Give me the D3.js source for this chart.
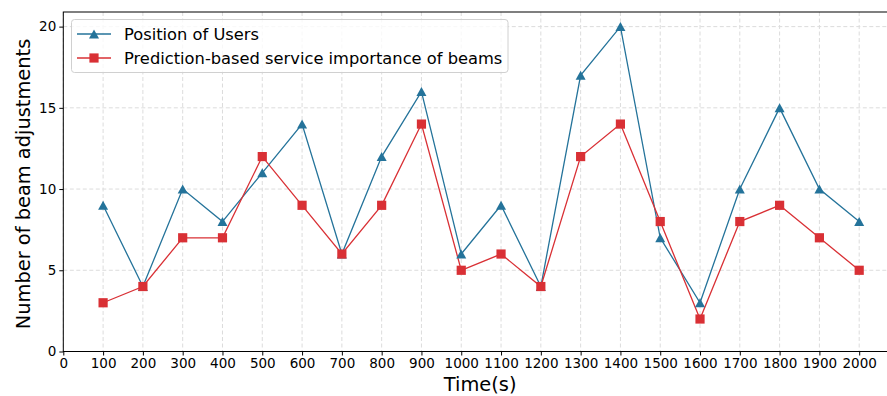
<!DOCTYPE html>
<html>
<head>
<meta charset="utf-8">
<script src="https://cdn.jsdelivr.net/npm/d3@7"></script>
<style>
  body { margin: 0; background: #fff; }
  svg { display: block; font-family: "DejaVu Sans", sans-serif; }
</style>
</head>
<body>
<svg id="chart" width="887" height="396"></svg>
<script>
// data
const times = [100, 200, 300, 400, 500, 600, 700, 800, 900, 1000,
  1100, 1200, 1300, 1400, 1500, 1600, 1700, 1800, 1900, 2000];
const usersPos = [9, 4, 10, 8, 11, 14, 6, 12, 16, 6, 9, 4, 17, 20, 7, 3, 10, 15, 10, 8];
const predImportance = [3, 4, 7, 7, 12, 9, 6, 9, 14, 5, 6, 4, 12, 14, 8, 2, 8, 9, 7, 5];
const xTicks = d3.range(0, 2001, 100);
const yTicks = [0, 5, 10, 15, 20];
const seriesNames = ['Position of Users', 'Prediction-based service importance of beams'];

const blue = '#24739a', red = '#d93035';

const svg = d3.select('#chart');
const plotL = 63.3, plotR = 897, plotT = 12, plotB = 351.5;

const x = d3.scaleLinear().domain([0, 2095]).range([plotL, plotR]);
const y = d3.scaleLinear().domain([0, 20.9]).range([plotB, plotT]);

// grid
const grid = svg.append('g');
grid.selectAll('.gx').data(xTicks).join('line')
  .attr('x1', d => x(d)).attr('x2', d => x(d))
  .attr('y1', plotT).attr('y2', plotB)
  .attr('stroke', '#dcdcdc').attr('stroke-width', 1).attr('stroke-dasharray', '4,2.5');
grid.selectAll('.gy').data(yTicks).join('line')
  .attr('x1', plotL).attr('x2', plotR)
  .attr('y1', d => y(d)).attr('y2', d => y(d))
  .attr('stroke', '#dcdcdc').attr('stroke-width', 1).attr('stroke-dasharray', '4,2.5');

// axes
const xAxis = svg.append('g')
  .attr('transform', `translate(0,${plotB})`)
  .call(d3.axisBottom(x).tickValues(xTicks).tickFormat(d3.format('d')).tickSize(4).tickPadding(3));
const yAxis = svg.append('g')
  .attr('transform', `translate(${plotL},0)`)
  .call(d3.axisLeft(y).tickValues(yTicks).tickFormat(d3.format('d')).tickSize(4).tickPadding(3));
[xAxis, yAxis].forEach(a => {
  a.selectAll('text').attr('font-size', 13.5).attr('fill', '#000')
    .style('font-family', '"DejaVu Sans", sans-serif');
  a.selectAll('line').attr('stroke', '#000').attr('stroke-width', 1);
  a.select('.domain').remove();
});

// frame
svg.append('rect')
  .attr('x', plotL).attr('y', plotT)
  .attr('width', plotR - plotL).attr('height', plotB - plotT)
  .attr('fill', 'none').attr('stroke', '#000').attr('stroke-width', 1);

// axis labels
svg.append('text')
  .attr('x', (plotL + plotR) / 2).attr('y', 391)
  .attr('text-anchor', 'middle').attr('font-size', 19.4)
  .text('Time(s)');
svg.append('text')
  .attr('transform', 'translate(30,184) rotate(-90)')
  .attr('text-anchor', 'middle').attr('font-size', 19.4)
  .text('Number of beam adjustments');

// lines
const line = d3.line().x((d, i) => x(times[i])).y(d => y(d));
// matplotlib-style '^': centred at half height, not centroid
const tri = 'M0,-4.6L5,4.4L-5,4.4Z';
const sq = 'M-4.6,-4.6H4.6V4.6H-4.6Z';

svg.append('path').datum(usersPos).attr('d', line)
  .attr('fill', 'none').attr('stroke', blue).attr('stroke-width', 1.3);
svg.append('path').datum(predImportance).attr('d', line)
  .attr('fill', 'none').attr('stroke', red).attr('stroke-width', 1.3);

svg.selectAll('.tri').data(usersPos).join('path')
  .attr('d', tri)
  .attr('transform', (d, i) => `translate(${x(times[i])},${y(d)})`)
  .attr('fill', blue);
svg.selectAll('.sq').data(predImportance).join('path')
  .attr('d', sq)
  .attr('transform', (d, i) => `translate(${x(times[i])},${y(d)})`)
  .attr('fill', red);

// legend
const lg = svg.append('g');
lg.append('rect')
  .attr('x', 71.5).attr('y', 19.5).attr('width', 436.5).attr('height', 53).attr('rx', 3)
  .attr('fill', '#fff').attr('fill-opacity', 0.8)
  .attr('stroke', '#d0d0d0').attr('stroke-width', 1);
[[blue, tri], [red, sq]].forEach(([c, sym], i) => {
  const cy = 34 + i * 24;
  lg.append('line').attr('x1', 77).attr('x2', 111).attr('y1', cy).attr('y2', cy)
    .attr('stroke', c).attr('stroke-width', 1.3);
  lg.append('path').attr('d', sym)
    .attr('transform', `translate(94,${cy})`).attr('fill', c);
  lg.append('text').attr('x', 124).attr('y', cy + 6)
    .attr('font-size', 16.3).text(seriesNames[i]);
});
</script>
</body>
</html>
